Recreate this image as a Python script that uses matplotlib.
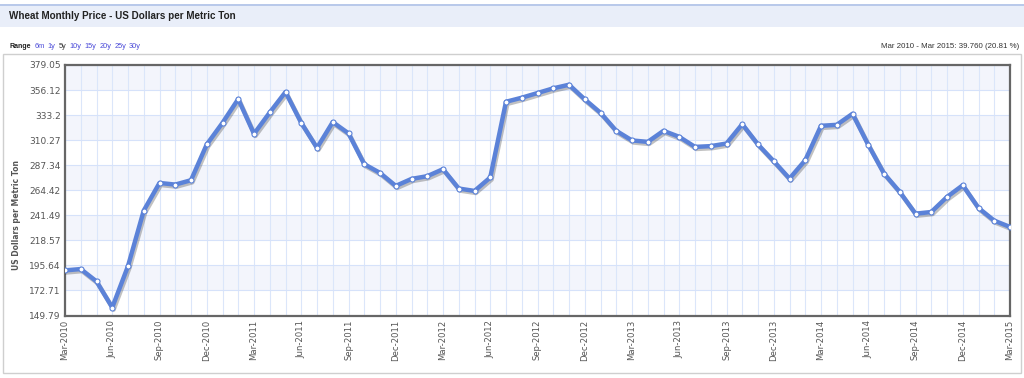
import numpy as np
import matplotlib
matplotlib.use("Agg")
import matplotlib.pyplot as plt
import matplotlib.patheffects as pe
from matplotlib.patches import Rectangle

# ---- data ----
months = ["Mar-2010","Apr-2010","May-2010","Jun-2010","Jul-2010","Aug-2010","Sep-2010","Oct-2010","Nov-2010","Dec-2010",
          "Jan-2011","Feb-2011","Mar-2011","Apr-2011","May-2011","Jun-2011","Jul-2011","Aug-2011","Sep-2011","Oct-2011",
          "Nov-2011","Dec-2011","Jan-2012","Feb-2012","Mar-2012","Apr-2012","May-2012","Jun-2012","Jul-2012","Aug-2012",
          "Sep-2012","Oct-2012","Nov-2012","Dec-2012","Jan-2013","Feb-2013","Mar-2013","Apr-2013","May-2013","Jun-2013",
          "Jul-2013","Aug-2013","Sep-2013","Oct-2013","Nov-2013","Dec-2013","Jan-2014","Feb-2014","Mar-2014","Apr-2014",
          "May-2014","Jun-2014","Jul-2014","Aug-2014","Sep-2014","Oct-2014","Nov-2014","Dec-2014","Jan-2015","Feb-2015","Mar-2015"]
prices = [191.06, 192.3, 181.0, 157.1, 195.0, 245.8, 271.1, 269.6, 273.6, 306.3,
          326.1, 347.9, 316.0, 335.6, 354.3, 326.1, 303.2, 326.8, 316.5, 288.3,
          280.3, 268.4, 274.8, 277.3, 283.7, 266.0, 263.8, 276.1, 345.4, 349.1,
          353.4, 357.7, 361.0, 347.6, 335.3, 318.8, 310.0, 308.7, 318.8, 313.3,
          304.1, 304.8, 307.2, 324.9, 306.3, 291.0, 275.1, 291.9, 323.4, 324.3,
          334.4, 306.0, 279.7, 262.9, 243.0, 244.5, 258.3, 269.0, 248.2, 236.6, 230.82]
ytick_labels = ["149.79","172.71","195.64","218.57","241.49","264.42","287.34","310.27","333.2","356.12","379.05"]
range_links = ["6m","1y","5y","10y","15y","20y","25y","30y"]

W, H = 1024, 378
fig = plt.figure(figsize=(W/100, H/100), dpi=100)
fig.patch.set_facecolor("white")

def fx(px): return px / W
def fy(py): return 1 - py / H

# title band
fig.patches.append(Rectangle((fx(0), fy(27)), fx(1024), 23/H, transform=fig.transFigure,
                             facecolor="#e9eef9", edgecolor="none", zorder=0))
fig.patches.append(Rectangle((fx(0), fy(5.5)), fx(1024), 1.5/H, transform=fig.transFigure,
                             facecolor="#b9c9ea", edgecolor="none", zorder=0))
fig.text(fx(9), fy(16), "Wheat Monthly Price - US Dollars per Metric Ton", fontsize=7.1,
         fontweight="bold", family="Liberation Sans", color="#222222", va="center", ha="left")

# range row
renderer = fig.canvas.get_renderer()
t = fig.text(fx(9), fy(46), "Range", fontsize=5.0, fontweight="bold", family="Liberation Sans",
             color="#222222", va="center", ha="left")
xpos = t.get_window_extent(renderer).x1 + 4
for lab in range_links:
    col = "#333333" if lab == "5y" else "#4b4bd8"
    t = fig.text(xpos / W, fy(46), lab, fontsize=5.3, family="Liberation Sans", color=col,
                 va="center", ha="left")
    xpos = t.get_window_extent(renderer).x1 + 3
fig.text(fx(1019), fy(46), "Mar 2010 - Mar 2015: 39.760 (20.81 %)", fontsize=5.7,
         family="Liberation Sans", color="#333333", va="center", ha="right")

# container box
fig.patches.append(Rectangle((fx(3), fy(373)), fx(1018), 319/H, transform=fig.transFigure,
                             facecolor="none", edgecolor="#cfcfcf", linewidth=1.0, zorder=0))

# axes
left, right, top, bottom = 65, 1010, 65, 315.5
ax = fig.add_axes([fx(left), fy(bottom), fx(right - left), (bottom - top) / H])
ax.set_facecolor("white")

x = np.arange(len(months))
yt = [float(v) for v in ytick_labels]
ax.set_xlim(0, len(months) - 1)
ax.set_ylim(yt[0], yt[-1])

# alternating bands
for i in range(len(yt) - 1):
    if i % 2 == 1:
        ax.axhspan(yt[i], yt[i + 1], facecolor="#f3f5fc", edgecolor="none", zorder=0)

for xv in x:
    ax.axvline(xv, color="#dbe6fa", linewidth=0.8, zorder=1)
for yv in yt:
    ax.axhline(yv, color="#d6e2fa", linewidth=0.8, zorder=1)

ax.plot(x, prices, color="#5b82d8", linewidth=3.2, zorder=3, solid_joinstyle="round",
        path_effects=[pe.SimpleLineShadow(offset=(1.0, -1.5), shadow_color="#333333", alpha=0.3),
                      pe.Normal()])
ax.plot(x, prices, linestyle="none", marker="o", markersize=3.6, markerfacecolor="white",
        markeredgecolor="#5b82d8", markeredgewidth=0.8, zorder=4)

for s in ax.spines.values():
    s.set_color("#666666")
    s.set_linewidth(1.6)

ax.set_yticks(yt)
ax.set_yticklabels(ytick_labels, fontsize=6.5, color="#555555", family="DejaVu Sans")
ax.set_xticks(x[::3])
ax.set_xticklabels(months[::3], rotation=90, fontsize=6.1, color="#555555", family="DejaVu Sans")
ax.tick_params(axis="both", length=0, pad=3)
ax.tick_params(axis="y", pad=3)
ax.set_ylabel("US Dollars per Metric Ton", fontsize=5.5, fontweight="bold", color="#555555",
              family="DejaVu Sans")
ax.yaxis.set_label_coords(-44 / (right - left), 0.40)

fig.savefig("out.png", dpi=100, facecolor="white")
